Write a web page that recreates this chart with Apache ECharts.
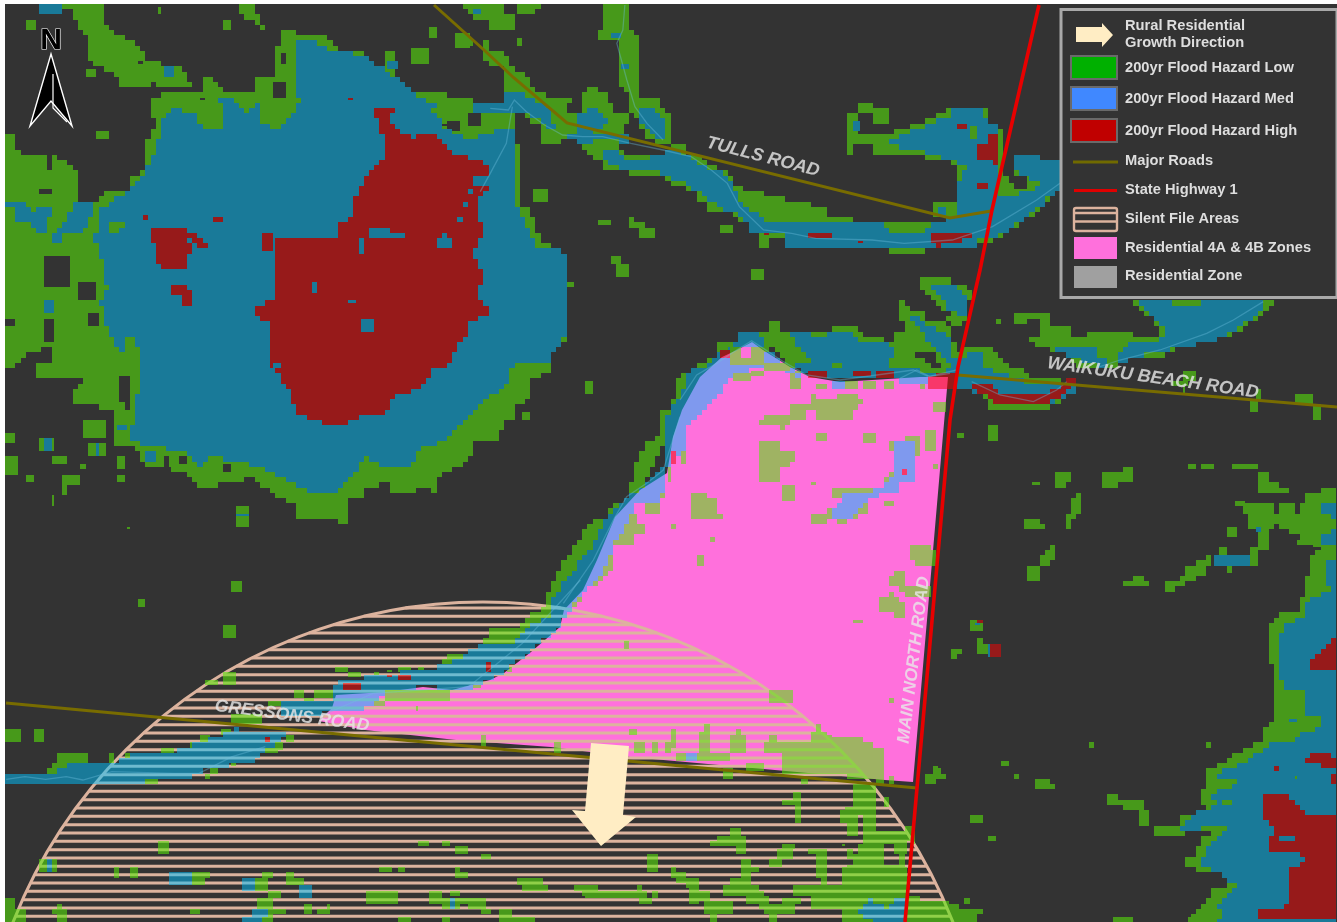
<!DOCTYPE html>
<html><head><meta charset="utf-8">
<style>html,body{margin:0;padding:0;background:#fff}#c{width:1337px;height:922px}</style>
<script src="https://cdn.jsdelivr.net/npm/echarts@6/dist/echarts.min.js"></script>
</head><body><div id="c"></div>
<script>
// ---- read-off origins of each set of outlines: [x0,y0,scaleX,scaleY]
const Z2=[0,0,2.613,2.958],Z3=[0,580,2.412,3],Z4=[530,320,3,3],Z5=[560,700,3,3],Z6=[430,0,2.489,3],Z7=[900,270,3,3],Z8=[1130,540,3,3],Z9=[950,400,3,3],Z10=[900,640,3,3];

// ---- 200yr flood hazard LOW: outlines (4 numbers = box, more = polygon)
const lowBlob=[
[16,390,35,400,50,450,135,455,180,480,200,510,200,595,260,595,260,575,340,560,340,525,375,510,375,430,410,360,390,350,390,300,440,270,505,265,530,270,540,210,580,265,620,270,665,270,670,230,715,230,715,140,735,140,735,85,770,85,775,105,815,105,870,115,880,155,955,155,985,195,1010,205,1010,145,1030,145,1040,230,1075,270,1200,285,1235,295,1235,340,1340,340,1340,400,1350,400,1360,610,1385,610,1415,720,1445,730,1478,745,1478,1000,1465,1020,1445,1035,1445,1090,1430,1105,1385,1125,1385,1185,1340,1200,1350,1245,1320,1245,1305,1295,1240,1310,1235,1350,1205,1375,1150,1405,1140,1460,1105,1440,1075,1460,1025,1460,1010,1430,960,1440,945,1475,910,1480,910,1555,850,1530,780,1530,780,1490,720,1470,690,1440,650,1400,630,1430,525,1438,490,1400,415,1380,365,1370,360,1330,295,1310,295,1215,180,1185,215,1125,100,1125,100,1075,135,1070,135,1025,85,1040,55,1065,30,1095,16,1095],
[120,15,265,15,265,45,285,85,300,100,340,115,375,150,390,180,475,205,505,265,400,250,310,265,305,225,225,180,225,110,205,80,180,25,120,20],
[620,15,660,15,665,40,690,75,700,100,660,60,620,40],
[65,60,95,85],[415,20,422,45],[585,60,605,85],[226,207,248,230],[248,390,282,412],[1120,85,1140,115],[1190,100,1230,140],[1350,115,1365,138],[1072,140,1120,190],[1395,557,1430,595],[1560,650,1570,665],[1480,835,1498,850],[1527,1124,1547,1163],[1365,1218,1385,1242],[620,1495,652,1555],[133,1462,145,1493],[308,1350,328,1388],[308,1403,328,1425],[65,1403,85,1425],[165,1403,213,1437],[165,1437,178,1462],[213,1373,225,1388],[133,1350,178,1372],[16,1350,50,1403],[16,1280,38,1310],[100,1295,145,1333],[228,1310,280,1348],[330,1555,340,1568],[215,1240,280,1295]];
const lowCutBlob=[[715,245,748,285],[735,155,748,190],[1225,335,1255,375],[1165,360,1200,390],[525,285,538,298],[360,178,375,190],[118,760,180,850],[200,835,248,890],[118,945,145,1015],[228,925,260,962],[16,945,38,962],[100,558,133,573],[120,455,133,505],[310,1110,340,1190],[325,1190,340,1215],[425,1350,443,1385],[470,1350,490,1372],[585,1372,605,1400]];
const lowNorth=[
[75,15,290,15,260,25,260,45,215,50,215,85,150,85,150,60,105,60,105,40,75,20],
[60,115,105,140],[0,85,15,115],[218,120,228,140],
[125,120,140,120,140,155,185,160,200,185,215,210,245,235,185,235,185,210,140,190],
[437,15,490,15,495,85,523,115,523,290,570,290,570,325,600,340,605,430,635,440,600,440,540,415,520,370,495,325,495,270,480,270,465,230,465,120,415,115,415,100,437,85],
[260,565,293,603],[415,660,447,675],[493,645,510,645,510,660,535,665,535,675,557,680,557,715,515,715,515,680,493,680],[725,675,757,698],[800,808,835,840],[448,770,478,790],[465,790,493,830],[1222,832,1298,840],
[0,275,70,290,70,305,105,305,105,340,185,340,185,230,245,235,260,275,300,290,355,290,355,305,340,305,340,345,385,345,385,275,408,250,415,270,445,285,445,305,465,340,495,345,495,375,480,375,480,405,495,430,470,430,480,460,420,485,385,455,385,435,340,415,325,435,280,435,280,385,230,345,200,345,200,385,130,385,130,415,60,415,30,380,0,360],
[415,440,480,460,585,460,600,440,635,440,640,460,670,470,720,510,745,520,760,560,800,570,830,570,830,585,880,585,880,605,945,605,945,620,990,620,990,650,1035,650,1050,645,1055,660,1130,660,1140,675,1240,675,1310,650,1310,753,1235,753,1235,768,1145,768,1145,753,990,753,990,738,880,738,880,715,845,715,845,738,820,738,820,700,790,700,790,670,770,670,770,645,695,640,695,605,665,600,665,580,635,570,635,552,590,550,590,530,495,530,495,515,435,510,435,490,415,460],
[1380,650,1380,600,1425,520,1450,520,1450,460,1520,460,1520,475,1568,475,1568,580,1545,580,1530,620,1510,640,1465,675,1440,680,1440,695,1420,712,1362,735,1310,738],
[1035,345,1060,340,1060,290,1068,305,1110,305,1110,325,1140,325,1140,365,1100,365,1100,340,1070,340,1070,395,1140,395,1145,400,1190,380,1235,365,1255,345,1300,325,1385,325,1390,365,1420,365,1425,540,1310,550,1310,490,1235,475,1235,458,1100,458,1100,435,1055,435,1055,470,1035,470],
[1254,605,1312,655]];
const lowCutNorth=[[185,15,215,45],[95,345,125,380],[30,368,60,380],[60,380,72,395],[1438,530,1453,550],[1455,530,1485,565],[1368,380,1375,420]];
const lowWaikuku=[
[62,25,155,25,155,40,195,40,210,60,210,90,200,130,190,165,155,165,140,150,155,135,130,120,105,95,80,80,62,50],
[0,95,20,95,25,125,75,130,80,150,140,150,155,205,180,245,200,225,285,225,285,240,305,270,325,285,385,310,400,330,525,335,530,365,490,370,490,395,460,410,435,425,265,425,265,395,245,370,210,370,210,350,170,350,145,355,130,310,90,320,45,300,0,300],
[695,90,1140,90,1100,115,1070,145,1040,170,1000,190,980,205,900,210,890,225,845,225,830,240,795,245,795,265,700,265,660,285,600,295,540,290,490,255,460,240,420,225,395,222,395,208,420,205,420,170,510,170,510,205,565,205,565,185,695,185,695,205,770,205,775,185,760,150],
[340,130,380,165],[380,130,450,145],[420,145,450,170],[288,145,302,165],
[850,300,885,330],[820,330,865,350],[845,350,860,370],[1065,355,1085,385],[1050,395,1070,425],[1180,370,1235,405],[1235,405,1258,450]];
const lowCutWaikuku=[[45,240,105,240,105,265,130,290,100,290,60,265,45,260],[0,150,10,185]];
const lowResidential=[
[55,880,55,820,70,780,92,740,130,680,160,635,200,595,225,595,250,555,295,535,295,500,320,470,320,430,350,370,385,350,385,265,425,260,440,180,505,130,560,110,560,75,620,60,660,40,720,40,720,120,500,200,300,560,100,880],
[720,0,745,0,745,25,790,35,895,40,900,20,985,20,1000,55,1095,60,1095,35,1120,35,1120,0,1190,0,1250,60,1270,60,1280,130,1250,145,1160,145,800,150,760,110,720,75,700,75,700,40,720,40],
[690,310,705,280,785,280,785,260,840,245,840,220,855,220,855,245,895,245,935,220,985,220,985,245,1000,245,970,270,970,298,855,298,855,275,835,275,835,298,785,298,785,315,755,335,745,315,690,315],
[690,355,745,355,745,390,785,390,800,410,795,430,765,440,745,460,745,487,690,487],
[855,340,890,365],[1000,338,1040,368],[760,498,798,538],[840,487,855,498],[1185,340,1225,318,1225,395,1185,395],[1210,245,1250,275],[1210,430,1228,448],
[1080,370,1095,370,1095,490,1045,495,1040,520,945,520,905,565,915,590,970,590,1000,555,1020,555,1020,575,985,590,950,590,950,615,930,615,920,595,895,595,890,615,855,615,840,580,885,580,905,550,925,540,905,520,905,500,1040,498,1080,465,1095,455],
[1120,340,1170,340,1170,405,1155,405,1120,365],[1135,430,1155,445],[1065,540,1095,555],
[480,525,530,525,530,540,555,540,555,575,575,592,480,592],[535,650,558,670],[503,708,520,738],[410,630,425,610,440,595,440,632],
[385,500,410,500,410,540,385,540],[345,555,385,555,385,578,345,578],[295,580,318,618],[255,670,255,640,290,615,345,615,345,635,315,640,315,670],
[200,780,205,745,225,725,240,680,255,680,240,760,205,780],[160,780,200,800],[130,830,160,820,160,850,130,860],[450,390,465,430],[412,430,425,485],
[1135,685,1165,675,1210,685,1210,735,1170,735,1135,720],[1080,765,1130,740,1130,800,1205,805,1205,835,1130,830,1105,800,1080,790],[1040,840,1085,820,1130,850,1130,895,1095,895,1095,870,1040,870],[970,898,1000,910],[1080,1138,1095,1152],
[600,115,660,135],[665,70,705,130],[705,125,780,150],[610,160,665,180],[665,150,705,165],[780,150,815,205],[855,190,890,205],[945,185,985,205],[1000,180,1040,205],[1065,180,1095,205],[1170,170,1190,205],
[905,1245,1000,1245,1000,1270,1025,1270,1025,1285,1065,1285,1065,1380,960,1370,800,1350,760,1335,760,1290,905,1290],[720,1115,785,1152],[855,1210,875,1245],[875,1245,905,1300],[1075,1365,1095,1390],[1040,1370,1065,1395],[285,965,297,990]];
const lowSilent=[
[430,70,445,95],[415,95,445,170],[510,105,560,155],[525,90,540,105],[630,105,655,155],[615,130,760,155],[670,155,850,220],[750,95,800,140],[765,70,785,95],[205,90,228,105],[335,90,350,145],[320,130,335,160],[225,130,255,160],[280,130,296,160],[350,160,510,185],[485,205,520,238],[560,190,615,215],[725,240,748,255],
[880,250,945,320],[855,320,950,345],[840,330,895,370],[860,370,895,410],[912,345,950,400],[912,390,1045,430],[1030,375,1065,425],[895,430,970,460],[1005,430,1045,460],[1015,460,1030,510],[880,460,970,490],[860,445,880,475],[845,428,855,442],[845,505,1040,560],[860,490,1020,510],[695,560,1040,590],[750,590,1080,625],[845,625,1200,666],[1060,600,1170,625],[1160,610,1200,640],[970,290,988,320],
[670,295,725,315],[695,275,725,295],[710,315,725,370],[445,425,560,440],[470,410,560,425],[510,388,540,410],[525,440,560,460],[655,445,695,475],[670,428,708,445],[630,478,670,500],[748,445,800,460],[765,460,800,530],[785,530,800,560],[258,462,296,515],[540,478,575,530],[575,500,600,515],[510,535,570,560],[485,555,600,590],[560,570,615,610],[600,590,630,625],[335,500,350,530],[350,515,375,550],[375,535,415,565],[390,565,415,610],[415,570,445,605],[430,600,520,645],[445,645,470,666],[40,555,110,570],[70,570,255,590],[228,555,245,570],[280,570,296,595],[245,595,280,610],[615,610,708,645],[630,645,655,666],[670,595,720,610],
[1100,225,1160,240],[1120,200,1135,225],[1100,240,1115,255]];
const lowGressons=[
[110,585,110,560,135,555,135,520,210,520,210,545,265,545,265,520,272,520,272,560,165,590],
[305,525,345,525,345,545,305,545],[390,505,420,520],[485,465,510,490],[455,490,485,505],[530,450,560,465],[640,505,672,520],[660,490,680,510],[690,460,710,488],[560,545,570,558],[510,562,525,580],[498,580,508,598],[290,598,315,612],[335,598,380,612],
[560,405,630,430],[645,360,680,375],[690,370,720,400],[710,335,735,355],[760,335,800,355],[735,355,760,370],
[1060,258,1085,228,1110,228,1160,210,1160,190,1185,150,1215,135,1215,150,1240,150,1260,125,1280,95,1320,85,1320,50,1340,0,1360,0,1340,100,1280,130,1240,190,1160,195,1085,250,1060,260],
[808,262,840,275],[840,278,870,295],[905,278,915,300],[935,265,945,280],[960,262,990,280],[1010,262,1020,280],[885,300,915,315],
[930,335,1085,360],[885,360,930,375],[1000,375,1010,395],[1125,305,1160,320],[1220,260,1235,280],[1160,465,1172,500],[1335,490,1352,518],[1505,190,1515,210],[1515,450,1532,465],
[15,450,48,490],[80,450,108,490],[335,55,348,78],[560,0,585,38],[540,135,572,172],[540,280,572,315],[498,303,525,318],
[380,787,410,820],[1010,787,1033,803],[1065,787,1083,803],[1098,803,1128,820],[1160,822,1183,838],[1560,825,1568,875],[95,838,135,875],[273,860,285,892],[315,860,335,892],[915,862,947,875],[960,862,978,875],[1098,862,1108,878],[1098,878,1128,892],
[465,878,510,892],[465,892,497,915],[615,895,647,930],[635,878,660,892],[690,878,708,895],[690,895,733,915],[648,930,678,955],[1247,892,1308,915],[1260,915,1322,930],[885,932,960,970],[1033,932,1065,970],[1085,932,1108,950],[1033,955,1170,970],[1065,970,1108,985],[1128,970,1170,985],[1160,985,1183,1005],
[645,988,690,1005],[735,970,753,1005],[765,985,797,1005],[790,970,797,985],[635,1005,660,1026],[455,988,485,1005],[122,988,165,1005],[135,970,153,988],[135,1005,165,1026],[960,1010,990,1026],[1065,1010,1083,1026],[1205,988,1235,1010],[1205,1010,1290,1026],[1385,915,1440,930],[1410,930,1558,955],[1535,915,1545,930],[1545,955,1568,970],[15,955,35,1026],[35,985,60,1026],[620,958,660,985]];
const lowEast=[
[621,15,570,25,550,50,550,100,530,105,530,170,505,175,505,210,455,215,440,240,412,255,412,305,435,310,412,330,412,380,435,380,435,545,415,550,400,570,395,600,360,625,305,640,290,665,250,680,228,700,228,755,210,755,210,790,228,790,228,810,170,825,155,855,170,860,195,870,250,870,210,905,195,945,170,960,195,995,265,1000,285,1020,285,1045,250,1050,228,1080,210,1105,180,1130,175,1146,621,1146],
[265,25,285,45],[358,25,380,75],[382,0,412,22],[505,0,545,12],[545,5,570,25],[0,140,10,120,35,105,35,120,60,120,60,140],[105,120,155,120,170,85,195,65,245,50,245,75,200,95,170,120,130,135,130,158,105,158],[288,78,302,100],[228,610,248,625],[0,772,38,772,38,810,60,810,60,850,25,850,25,810,0,810],[78,852,170,852,170,890,78,890]];
const lowScattered=[
[20,97,43,112],[113,75,152,75,152,97,137,97,137,128,113,128],[245,248,268,258],[323,223,361,223,361,248,340,248,340,258,323,258],[455,223,525,223,525,208,548,208,548,248,510,248,510,258,455,258],
[378,283,393,283,393,338,378,338,378,352,361,352,361,392,340,392,340,338,361,338,361,300,378,300],
[230,354,268,354,268,377,285,377,285,392,230,392],[300,432,323,432,323,483,300,483,300,498,270,498,270,468,285,468,285,445,300,445],[230,498,270,540],[548,522,580,522,580,540,603,540,603,562,525,562,525,540,548,540],
[642,540,697,540,697,522,712,522,712,498,735,498,735,483,767,483,767,468,790,468,790,498,767,498,767,522,735,522,735,540,712,540,712,562,673,562,673,578,642,578],
[805,445,828,462],[828,498,843,522],[898,445,921,498],[712,192,735,208],[750,192,790,208],[843,192,921,208],[921,223,952,223,952,248,990,248,990,258,1015,258,1015,283,921,283],[858,299,882,315],[828,377,859,408],
[882,315,975,315,975,338,990,338,990,315,1030,315,1030,338,1045,338,1045,315,1068,315,1068,283,1108,283,1108,259,1161,259,1161,780,952,780,952,672,975,672,975,657,990,657,990,633,1045,633,1045,595,1068,595,1068,522,1085,522,1085,468,1108,468,1108,442,1085,432,1045,432,1045,408,1015,408,1015,392,990,392,990,377,975,377,975,392,952,392,952,443,921,443,921,392,898,392,898,338,882,338],
[60,657,98,688],[82,712,97,712,97,728,120,728,120,766,82,766],[5,750,43,750,43,765,20,765,20,780,5,780],[898,0,921,35],[1030,0,1085,10],[1085,20,1108,58]];
const lowScattered2=[
[303,363,326,380],[341,402,357,418],[396,418,450,418,450,433,473,433,473,455,396,455],[566,309,582,325],[78,403,102,403,102,380,117,380,117,403,140,403,140,417,102,417,102,433,78,433],[210,527,248,550],[263,590,287,606],[192,775,210,790],
[620,456,660,456,660,472,730,472,730,510,753,510,753,550,714,550,714,510,675,510,675,495,620,495],[768,552,848,552,848,527,865,527,862,590,768,590],[862,658,885,658,885,642,900,642,900,695,885,695,885,680,862,680],[635,830,698,846],[862,830,900,846],[140,790,170,790,170,807,248,807,248,827,232,827,232,846,150,846],[35,550,47,610]];

// ---- 200yr flood hazard MED
const medBlob=[
[770,115,815,115,875,155,960,160,985,195,1040,230,1085,280,1125,300,1120,340,1155,345,1155,375,1185,395,1225,410,1340,375,1350,610,1400,730,1475,745,1475,1000,1445,1050,1440,1075,1340,1080,1330,1130,1285,1170,1200,1260,1150,1310,1105,1320,1070,1385,1000,1385,955,1350,930,1395,870,1460,810,1460,740,1410,640,1370,545,1350,520,1385,490,1340,340,1305,362,1150,360,1045,375,1045,335,985,320,1050,280,970,262,900,280,850,262,760,248,700,262,620,335,560,375,510,410,430,430,330,460,325,500,330,540,385,585,385,575,285,600,285,640,335,665,305,685,310,670,350,730,385,790,295,770,265],
[16,600,50,590,85,620,130,615,145,625,115,650,120,680,100,690,60,650,40,665,40,620,16,610],
[195,600,250,600,225,680,165,690,165,720,135,720,135,690,180,640],
[100,15,165,42],[1010,178,1038,205],[118,890,145,925],[430,195,455,225],[305,1260,330,1270],[380,1335,410,1365],[620,1518,652,1530],[118,1295,133,1333],[248,1310,260,1348]];
const medCutBlob=[[282,690,290,665,310,652,325,660,310,680,305,690]];
const medNorth=[
[105,25,125,45],[447,100,478,115],[478,195,495,210],[525,330,560,330,590,380,590,420,550,405,525,365],
[105,305,185,305,185,275,230,275,260,300,295,325,295,365,330,395,370,395,370,345,405,325,445,360,420,385,390,405,370,435,345,410,325,395,285,375,262,350,200,340,105,340],
[370,405,430,405,490,395,495,430,470,430,450,410,370,435],[0,300,15,310,5,330,0,330],
[420,440,460,450,490,475,585,470,590,450,635,460,665,490,715,515,745,530,755,565,770,600,790,620,835,660,850,675,905,665,1020,660,1130,672,1145,698,1235,698,1240,680,1310,650,1380,650,1380,625,1420,590,1450,590,1490,570,1520,555,1568,550,1568,575,1535,590,1530,620,1510,625,1465,670,1440,680,1440,695,1420,695,1420,712,1362,715,1360,738,1310,738,1310,752,1035,752,1035,738,880,738,880,700,790,700,790,670,770,640,725,625,695,600,665,575,640,552,595,530,570,515,495,515,440,490],
[1450,465,1510,470,1520,480,1568,480,1568,550,1520,555,1490,530,1450,515],
[1055,365,1070,395],[1145,420,1190,395,1235,380,1255,365,1300,345,1300,330,1375,330,1385,365,1420,370,1420,550,1410,600,1380,620,1380,650,1310,650,1310,550,1340,500,1310,490,1240,460,1145,435],[1265,620,1285,640]];
const medCutNorth=[[1345,380,1362,420]];
const medWaikuku=[
[85,40,150,45,195,70,210,90,195,145,170,135,140,110,110,70],
[25,135,65,150,120,185,150,210,165,285,130,265,80,205,50,160],
[0,320,50,300,90,315,150,300,175,265,205,260,215,240,245,240,250,285,300,310,385,340,530,345,530,365,490,370,490,390,440,405,285,405,245,370,170,350,0,345],
[700,90,1105,90,1060,140,1000,185,950,207,880,225,790,245,700,262,660,280,600,290,560,275,490,255,458,228,580,225,600,260,640,280,680,225,790,205,795,185,760,150,720,110]];
const medCutWaikuku=[[820,90,905,108]];
const medResidential=[
[630,40,690,35,705,85,735,110,790,150,830,175,790,165,720,135,610,165,560,230,515,270,465,320,465,390,412,440,412,480,385,545,320,555,290,610,255,670,240,710,205,775,135,835,105,880,60,880,70,830,110,780,170,700,215,620,255,560,300,525,350,490,400,440,400,330,420,270,445,240,480,150,520,150,575,100,610,75],
[785,40,830,40,870,60,895,40,960,40,990,70,1010,70,1090,75,1095,110,1060,125,1080,140,1160,150,1200,170,1280,155,1280,205,1190,175,1170,165,1100,180,970,180,830,165,790,140,860,115,910,120,910,145,945,145,890,115,840,110,795,70],
[1170,0,1240,40,1265,80,1250,80,1175,30],
[1095,370,1155,370,1155,490,1120,490,1090,525,1040,525,1000,550,970,590,910,590,905,570,945,525,1040,510,1085,470,1100,440],
[905,180,945,205]];
const medCutResidential=[[600,85,705,135],[705,125,780,150]];
const clearResidential=[[630,82,665,115]];
const medSilent=[[375,160,410,180],[895,635,935,595,975,625,1005,598,1040,598,1040,666,935,666]];
const medGressons=[
[15,583,110,583,165,565,165,545,235,545,270,550,330,520,420,520,420,505,480,490,530,465,570,448,690,460,670,490,640,515,605,545,510,565,465,580,465,597,230,612,15,612],
[680,360,800,360,805,330,810,305,1060,260,1085,250,1160,190,1240,190,1280,130,1340,100,1380,0,1420,0,1395,60,1360,110,1350,145,1280,210,1215,280,1185,300,1125,332,1020,320,930,340,885,385,790,395,770,410,680,410],
[110,838,122,875],[410,878,465,915],[585,892,615,930],[722,915,753,955],[1085,955,1098,985],[605,985,645,1010],[585,1010,635,1026]];
const medCutGressons=[[930,335,1085,360],[1000,320,1020,335]];
const medEast=[
[621,60,590,70,590,125,600,150,560,170,530,190,520,230,470,250,450,280,450,410,475,455,530,455,530,535,580,535,560,575,510,580,495,605,420,615,370,650,310,680,250,705,335,730,280,745,250,760,255,800,195,815,160,850,175,865,300,855,260,890,245,905,230,935,210,970,265,1000,320,1040,280,1080,250,1100,290,1120,265,1146,621,1146],
[250,48,358,78],[475,535,505,547]];
const medCutEast=[[265,790,280,775,320,772,310,792,270,795],[490,705,505,718]];
const medScattered=[[790,468,898,498],[1161,315,1108,315,1120,335,1140,350,1161,375],[1108,410,1140,410,1150,395,1161,395,1161,440,1108,432],[1161,485,1125,490,1125,535,1140,540,1140,575,1070,600,1065,640,1040,660,990,700,990,780,1161,780],[920,378,936,392],[112,728,122,766],[75,665,90,680]];
const medScattered2=[[848,565,865,535,885,527,885,510,900,510,900,566]];

// ---- 200yr flood hazard HIGH
const highBlob=[
[1040,320,1020,350,1030,375,1085,410,1095,390,1135,390,1185,450,1220,455,1225,470,1285,485,1280,520,1240,525,1240,545,1270,545,1270,570,1255,575,1255,625,1240,640,1270,680,1235,750,1255,800,1270,825,1255,845,1255,895,1270,900,1270,940,1220,945,1220,1000,1190,1020,1185,1075,1125,1095,1120,1125,1075,1160,1030,1165,1020,1195,1000,1220,950,1220,910,1255,850,1255,805,1240,770,1215,765,1170,735,1130,735,1110,700,1080,700,945,665,940,665,905,715,885,715,705,875,705,880,670,930,640,930,575,960,515,1010,460,1010,395,990,390,980,325],
[390,670,480,670,500,690,525,700,540,720,530,740,520,740,505,705,490,705,505,740,490,755,490,795,430,795,410,770,410,730,390,720],
[445,835,470,835,500,860,500,905,480,905,465,870,445,870],[555,640,570,635,585,655,585,665,555,660],[688,690,715,742],[375,635,390,650],[910,285,925,300]];
const highCutBlob=[[960,670,1010,670,1015,690,1060,690,1050,705,960,705],[930,705,955,705,955,755,935,745],[1125,740,1160,690,1185,715,1165,742],[1190,635,1220,665,1190,665],[815,835,830,865],[910,885,930,900],[945,945,975,980],[1222,558,1238,572],[1208,598,1222,610],[715,1075,735,1092]];
const highNorth=[[1298,365,1332,365,1330,395],[1385,400,1398,395,1408,410,1408,490,1385,480,1362,470,1362,435,1385,435],[1362,552,1390,565],[945,700,1002,715],[835,700,848,710],[1068,718,1080,730],[1252,700,1345,700,1345,712,1295,730,1265,738,1252,725]];
const highWaikuku=[[85,320,135,315,160,300,170,320,145,325,130,330,85,330],[210,335,260,335,300,375,440,370,480,345,520,320,540,320,520,345,490,370,440,405,290,400,250,370,215,350]];
const highResidential=[[838,150,890,178],[970,150,1020,165],[1040,150,1090,178],[1195,165,1280,205],[570,92,598,110],[425,395,440,430],[1118,448,1132,462]];
const highGressons=[[635,465,660,475,648,490],[828,305,870,333],[1172,245,1185,275],[935,285,945,295],[960,288,990,300]];
const highEast=[[530,375,575,345,610,295,621,295,621,395,555,395],[515,675,545,640,600,640,610,660,621,665,621,680],[435,680,450,695],[600,715,621,695,621,735],[400,770,480,770,530,825,621,825,621,1146,570,1130,380,1146,380,1105,465,1105,490,1075,475,1060,475,1000,500,975,530,970,505,940,420,940,410,900,435,880,400,825]];
const highCutEast=[[450,890,490,905]];
const highScattered=[[1090,780,1140,735,1161,710,1161,780],[122,728,152,766],[85,657,98,665]];

// ---- zones (page pixels)
const pinkZone=[[752,342],[763,350],[790,367],[810,377],[840,382],[920,377],[948,377],[913,782],[885,780],[797,772],[630,757],[551,747],[456,740],[365,730],[319,721],[332,708],[336,695],[385,692],[423,687],[452,690],[490,680],[504,673],[531,652],[560,627],[564,610],[583,590],[597,560],[615,517],[640,490],[667,473],[673,437],[682,410],[700,377],[722,357],[737,350]];
const silentCentre=[483,1107], silentRadius=505;
const silentRows=[608,616.3,624.7,633,641.3,649.7,658,666.3,674.7,683,691.3,699.7,708,716.3,724.7,733,741.3,749.7,758,766.3,774.7,783,791.3,799.7,808,816.3,824.7,833,841.3,849.7,858,866.3,874.7,883,891.3,899.7,908,916.3];
const growthArrow=[[591,743],[629,746],[623,815],[636,817],[601,846],[572,810],[585,811]];

// ---- roads and streams (page pixels)
const tullsRoad=[[434,5],[484,50],[514,78],[567,123],[950,218],[991,211]];
const gressonsRoad=[[6,703],[917,788]];
const waikukuRoad=[[958,375],[1337,407]];
const stateHighway=[[1039,5],[992,210],[980,270],[958,367],[950,420],[917,788],[905,922]];
const streamsZ6=[[[150,325],[195,330],[210,300],[240,335],[285,375],[330,405],[380,410],[430,410],[500,430],[580,450],[650,470],[700,510],[740,550],[770,620],[830,690],[900,700],[960,715],[1100,720],[1180,730],[1300,720],[1400,680],[1510,600],[1568,550]],[[205,320],[190,430],[150,520],[125,575]],[[485,15],[480,90],[465,130],[490,240],[510,320],[540,370],[580,420]]];
const streamsZ7=[[[0,325],[50,300],[90,320],[150,310]],[[1090,95],[1000,150],[920,190],[780,240],[660,270],[600,290]],[[215,335],[300,375],[400,395],[470,360],[500,335]]];
const streamsZ4=[[[450,240],[500,165],[560,130],[620,90],[665,62],[700,85],[760,125],[830,165],[930,180],[1150,150],[1195,170],[1280,150]],[[450,290],[400,450],[350,490],[290,530],[250,600],[190,720],[100,850]]];
const streamsZ3=[[[15,598],[60,590],[110,598],[160,590],[200,600],[270,575],[420,580],[480,580],[560,530],[640,500]],[[770,410],[900,340],[1130,320],[1260,190],[1400,0]]];

// ---- text
const roadLabels=[
 {name:'TULLS ROAD',value:[763,157],rotate:-14.5,size:18,weight:'bold'},
 {name:'WAIKUKU BEACH ROAD',value:[1153,378],rotate:-8,size:18,weight:'bold'},
 {name:'GRESSONS ROAD',value:[292,716],rotate:-7.5,size:17.5,weight:'bold'},
 {name:'MAIN NORTH ROAD',value:[914,660],rotate:83,size:17.5,weight:'bold'}];
const legendLabels=[['Rural Residential',26],['Growth Direction',43],['200yr Flood Hazard Low',68],['200yr Flood Hazard Med',99],['200yr Flood Hazard High',131],['Major Roads',161],['State Highway 1',190],['Silent File Areas',219],['Residential 4A & 4B Zones',248],['Residential Zone',276]];

// ---- colours
const C={bg:'#333333',low:'rgba(86,230,7,0.57)',med:'rgba(0,193,255,0.5)',high:'rgba(242,4,4,0.525)',pink:'#ff70dc',peach:'#dcb39e',road:'#786c00',hwy:'#e80000',arrow:'#ffedc4',text:'#e8e8e8'};

// ---- helpers
function mp(o,a){const r=[];for(let i=0;i<a.length;i+=2)r.push([o[0]+a[i]/o[2],o[1]+a[i+1]/o[3]]);
 if(r.length===2){const b=[[r[0][0],r[0][1]],[r[1][0],r[0][1]],[r[1][0],r[1][1]],[r[0][0],r[1][1]]];b.box=true;return b;}return r;}
const S=(o,l)=>l.map(a=>mp(o,a));
const ln=(o,l)=>l.map(s=>s.map(p=>[o[0]+p[0]/o[2],o[1]+p[1]/o[3]]));
const CELL=2.6,OX=5,OY=4,COLS=Math.ceil(1332/CELL),ROWS=Math.ceil(918/CELL);
const G=new Uint8Array(COLS*ROWS);
function fill(shapes,fn){shapes.forEach(p=>{let a=1e9,b=-1e9;p.forEach(q=>{a=Math.min(a,q[1]);b=Math.max(b,q[1]);});
 const st=p.box?1:2; // outlines step like the 2-cell raster of the source; boxes keep their own size
 const r0=Math.max(0,Math.floor((a-OY)/(CELL*st))*st),r1=Math.min(ROWS-1,Math.ceil((b-OY)/CELL));
 for(let r=r0;r<=r1;r+=st){const y=OY+(r+st/2)*CELL,xs=[];
  for(let i=0,n=p.length;i<n;i++){const A=p[i],B=p[(i+1)%n];if((A[1]>y)!==(B[1]>y))xs.push(A[0]+(y-A[1])/(B[1]-A[1])*(B[0]-A[0]));}
  xs.sort((u,v)=>u-v);
  for(let k=0;k+1<xs.length;k+=2){const c0=Math.max(0,Math.round((xs[k]-OX)/(CELL*st))*st),c1=Math.min(COLS,Math.round((xs[k+1]-OX)/(CELL*st))*st);
   for(let q=0;q<st;q++){if(r+q>=ROWS)break;for(let c=c0;c<c1;c++){const id=(r+q)*COLS+c;G[id]=fn(G[id]);}}}}});}
const low=[...S(Z2,lowBlob),...S(Z6,lowNorth),...S(Z7,lowWaikuku),...S(Z4,lowResidential),...S(Z5,lowSilent),...S(Z3,lowGressons),...S(Z8,lowEast),...S(Z9,lowScattered),...S(Z10,lowScattered2)];
const lowCut=[...S(Z2,lowCutBlob),...S(Z6,lowCutNorth),...S(Z7,lowCutWaikuku)];
const med=[...S(Z2,medBlob),...S(Z6,medNorth),...S(Z7,medWaikuku),...S(Z4,medResidential),...S(Z5,medSilent),...S(Z3,medGressons),...S(Z8,medEast),...S(Z9,medScattered),...S(Z10,medScattered2)];
const medCut=[...S(Z2,medCutBlob),...S(Z6,medCutNorth),...S(Z7,medCutWaikuku),...S(Z3,medCutGressons),...S(Z8,medCutEast),...S(Z4,medCutResidential)];
const high=[...S(Z2,highBlob),...S(Z6,highNorth),...S(Z7,highWaikuku),...S(Z4,highResidential),...S(Z3,highGressons),...S(Z8,highEast),...S(Z9,highScattered)];
const highCut=[...S(Z2,highCutBlob),...S(Z8,highCutEast)];
fill(low,()=>1);fill(lowCut,()=>0);fill(med,()=>2);fill(medCut,v=>v===2?1:v);fill(high,()=>3);fill(highCut,v=>v===3?2:v);fill(S(Z4,clearResidential),()=>0);
function rowsOf(cls){const out=[];for(let r=0;r<ROWS;r++){const runs=[];let c=0;while(c<COLS){if(G[r*COLS+c]===cls){let e=c;while(e<COLS&&G[r*COLS+e]===cls)e++;runs.push([OX+c*CELL,OX+e*CELL]);c=e;}else c++;}
 if(runs.length)out.push({y:OY+r*CELL,runs});}return out;}
function raster(name,cls,color,z){const rows=rowsOf(cls);return{type:'custom',name,z,silent:true,clip:true,progressive:0,animation:false,
 data:rows.map(r=>[r.runs[0][0],r.y]),encode:{x:0,y:1},
 renderItem:(p,api)=>{const r=rows[p.dataIndex];const y0=Math.round(api.coord([0,r.y])[1]),y1=Math.round(api.coord([0,r.y+CELL])[1]);let d='';
  r.runs.forEach(u=>{const x0=Math.round(api.coord([u[0],0])[0]),x1=Math.round(api.coord([u[1],0])[0]);d+=`M${x0} ${y0}H${x1}V${y1}H${x0}Z`;});
  return{type:'path',shape:{pathData:d},style:{fill:color}};}};}
function poly(name,pts,color,z){return{type:'custom',name,z,silent:true,progressive:0,animation:false,data:[pts[0]],encode:{x:0,y:1},
 renderItem:(p,api)=>({type:'polygon',shape:{points:pts.map(q=>api.coord(q))},style:{fill:color}})};}
function line(name,pts,color,w,z,op){return{type:'line',name,z,silent:true,animation:false,showSymbol:false,symbol:'none',data:pts,lineStyle:{color,width:w,opacity:op==null?1:op,join:'miter'}};}

const streams=[...ln(Z6,streamsZ6),...ln(Z7,streamsZ7),...ln(Z4,streamsZ4),...ln(Z3,streamsZ3)];
const series=[
 {type:'custom',name:'Map',z:1,silent:true,animation:false,data:[[5,4]],encode:{x:0,y:1},renderItem:(p,api)=>{const a=api.coord([5,4]),b=api.coord([1337,922]);return{type:'rect',shape:{x:a[0],y:a[1],width:b[0]-a[0],height:b[1]-a[1]},style:{fill:C.bg}};}},
 poly('Residential 4A & 4B Zones',pinkZone,C.pink,2),
 {type:'custom',name:'Silent File Areas',z:3,silent:true,clip:true,progressive:0,animation:false,data:silentRows.map(y=>[silentCentre[0],y]),encode:{x:0,y:1},
  renderItem:(p,api)=>{const y=api.value(1),dy=y-silentCentre[1],h=Math.sqrt(Math.max(0,silentRadius*silentRadius-dy*dy));
   const a=api.coord([Math.max(5,silentCentre[0]-h),y-1.5]),b=api.coord([silentCentre[0]+h,y+1.5]);
   return{type:'rect',shape:{x:a[0],y:a[1],width:b[0]-a[0],height:b[1]-a[1]},style:{fill:C.peach}};}},
 {type:'custom',name:'Silent File Outline',z:3,silent:true,clip:true,animation:false,data:[silentCentre],encode:{x:0,y:1},
  renderItem:(p,api)=>{const c=api.coord(silentCentre),e=api.coord([silentCentre[0]+silentRadius,silentCentre[1]]);return{type:'circle',shape:{cx:c[0],cy:c[1],r:e[0]-c[0]},style:{fill:'none',stroke:C.peach,lineWidth:3}};}},
 raster('200yr Flood Hazard Low',1,C.low,4),
 raster('200yr Flood Hazard Med',2,C.med,4),
 raster('200yr Flood Hazard High',3,C.high,4),
 ...streams.map((s,i)=>line('Stream '+i,s,'#6fc0e0',1.3,5,0.38)),
 line('Tulls Road',tullsRoad,C.road,3,6),line('Gressons Road',gressonsRoad,C.road,3,6),line('Waikuku Beach Road',waikukuRoad,C.road,3,6),
 line('State Highway 1',stateHighway,C.hwy,3.6,7),
 poly('Rural Residential Growth Direction',growthArrow,C.arrow,8),
 {type:'scatter',name:'Road names',z:9,silent:true,animation:false,symbolSize:0,data:roadLabels.map(l=>({name:l.name,value:l.value,label:{rotate:l.rotate,fontSize:l.size,fontWeight:l.weight}})),
  label:{show:true,position:'inside',formatter:'{b}',color:C.text,fontFamily:'Liberation Sans',fontStyle:'italic',align:'center',verticalAlign:'middle'}}
];
const gfx=[
 {type:'rect',shape:{x:1061,y:9.5,width:276,height:288},style:{fill:C.bg,stroke:'#a9a9a9',lineWidth:3}},
 {type:'polygon',shape:{points:[[1076,27],[1102,27],[1102,23],[1113,35],[1102,47],[1102,42],[1076,42]]},style:{fill:C.arrow}},
 {type:'rect',shape:{x:1071,y:56,width:46,height:23},style:{fill:'#00b000',stroke:'#6a6a6a',lineWidth:2}},
 {type:'rect',shape:{x:1071,y:87,width:46,height:23},style:{fill:'#4088ff',stroke:'#6a6a6a',lineWidth:2}},
 {type:'rect',shape:{x:1071,y:119,width:46,height:23},style:{fill:'#c00000',stroke:'#6a6a6a',lineWidth:2}},
 {type:'line',shape:{x1:1073,y1:162,x2:1118,y2:162},style:{stroke:'#706a00',lineWidth:3}},
 {type:'line',shape:{x1:1074,y1:190.5,x2:1117,y2:190.5},style:{stroke:'#e00000',lineWidth:3}},
 {type:'rect',shape:{x:1074,y:208,width:43,height:23,r:2},style:{fill:C.bg,stroke:C.peach,lineWidth:2.4}},
 {type:'line',shape:{x1:1074,y1:213,x2:1117,y2:213},style:{stroke:C.peach,lineWidth:2.4}},
 {type:'line',shape:{x1:1074,y1:221.5,x2:1117,y2:221.5},style:{stroke:C.peach,lineWidth:2.4}},
 {type:'rect',shape:{x:1074,y:237,width:43,height:22},style:{fill:C.pink}},
 {type:'rect',shape:{x:1074,y:266,width:43,height:22},style:{fill:'#a0a0a0'}},
 ...legendLabels.map(l=>({type:'text',style:{x:1125,y:l[1],text:l[0],fill:'#dedede',font:'bold 14.7px "Liberation Sans"',verticalAlign:'middle'}})),
 {type:'text',style:{x:51,y:41,text:'N',fill:'#000',stroke:'#fff',lineWidth:1.2,font:'bold 30px "Liberation Sans"',align:'center',verticalAlign:'middle'}},
 {type:'polygon',shape:{points:[[51,54],[72,126],[51,101],[30,126]]},style:{fill:'#000',stroke:'#fff',lineWidth:1.4}},
 {type:'polyline',shape:{points:[[53,74],[53,108],[67,122]]},style:{fill:'none',stroke:'#fff',lineWidth:1.2}}
].map(e=>Object.assign(e,{z:50,silent:true}));

const chart=echarts.init(document.getElementById('c'),null,{renderer:'canvas',width:1337,height:922});
chart.setOption({animation:false,backgroundColor:'#ffffff',tooltip:{show:false},legend:{show:false},
 grid:{left:0,right:0,top:0,bottom:0,containLabel:false},
 xAxis:{type:'value',min:0,max:1337,show:false},
 yAxis:{type:'value',min:0,max:922,inverse:true,show:false},
 series,graphic:{elements:gfx}});
</script></body></html>
